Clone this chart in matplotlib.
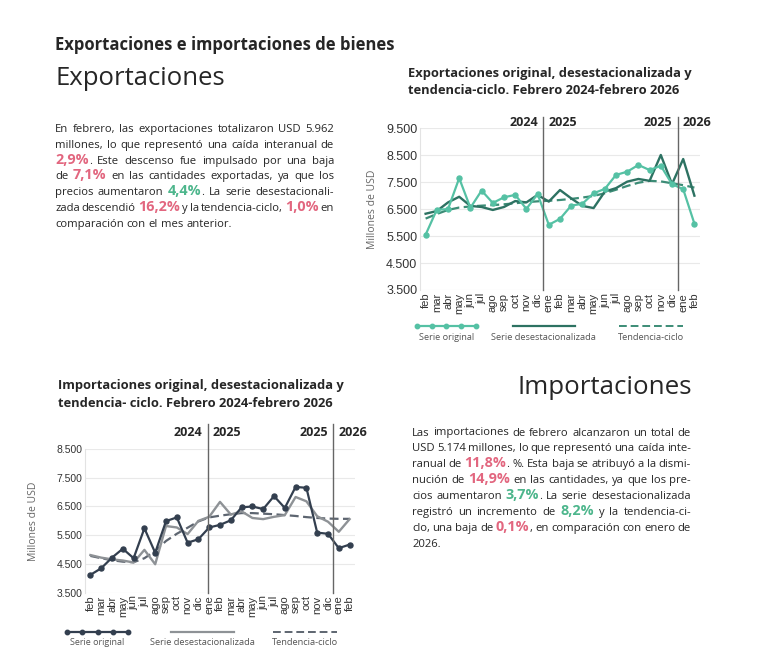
import re
import numpy as np
import matplotlib
matplotlib.use("Agg")
import matplotlib.pyplot as plt
from matplotlib.lines import Line2D

W, H = 757, 671

months = ["feb", "mar", "abr", "may", "jun", "jul", "ago", "sep", "oct", "nov", "dic",
          "ene", "feb", "mar", "abr", "may", "jun", "jul", "ago", "sep", "oct", "nov", "dic",
          "ene", "feb"]

# exportaciones, millones de USD (feb 2024 - feb 2026)
exp_original = [5550, 6480, 6500, 7650, 6550, 7190, 6730, 6940, 7030, 6510, 7060,
                5920, 6140, 6630, 6700, 7090, 7250, 7770, 7890, 8140, 7950, 8110, 7430,
                7240, 5962]
exp_desest = [6330, 6430, 6750, 6960, 6620, 6580, 6470, 6580, 6800, 6750, 7030,
              6780, 7210, 6900, 6620, 6540, 7150, 7280, 7520, 7620, 7550, 8510, 7430,
              8360, 7000]
exp_tendencia = [6150, 6320, 6470, 6560, 6600, 6630, 6650, 6680, 6720, 6760, 6790,
                 6810, 6840, 6880, 6930, 6990, 7090, 7220, 7360, 7480, 7550, 7530, 7460,
                 7390, 7300]

# importaciones, millones de USD
imp_original = [4120, 4350, 4720, 5030, 4700, 5740, 4890, 5990, 6120, 5240, 5360,
                5770, 5860, 6020, 6470, 6500, 6410, 6860, 6450, 7180, 7150, 5590, 5550,
                5050, 5174]
imp_desest = [4810, 4720, 4660, 4620, 4550, 4990, 4490, 5820, 5770, 5540, 6000,
              6140, 6660, 6220, 6330, 6100, 6060, 6140, 6200, 6830, 6680, 6160, 5970,
              5620, 6060]
imp_tendencia = [4780, 4700, 4630, 4580, 4560, 4700, 4950, 5300, 5550, 5760, 5980,
                 6120, 6180, 6230, 6270, 6270, 6250, 6230, 6200, 6170, 6130, 6100, 6080,
                 6070, 6070]

exp_yticks = [3500, 4500, 5500, 6500, 7500, 8500, 9500]
imp_yticks = [3500, 4500, 5500, 6500, 7500, 8500]

TEXT = "#262626"
PINK = "#E2667F"
GREEN = "#4DB68C"
BODY = ["Open Sans", "DejaVu Sans"]
NARROW = ["Liberation Sans Narrow", "Liberation Sans", "DejaVu Sans"]

fig = plt.figure(figsize=(W / 100, H / 100), dpi=100)
fig.patch.set_facecolor("white")
renderer = fig.canvas.get_renderer()


def fx(x):
    return x / W


def fy(y):
    return 1 - y / H


def put(x, y, s, **kw):
    kw.setdefault("va", "baseline")
    return fig.text(fx(x), fy(y), s, **kw)


def wpx(t):
    return t.get_window_extent(renderer).width


def fit(t, target):
    t.set_fontsize(t.get_fontsize() * target / wpx(t))
    return t


def advance(s, kw):
    # width including side bearings: measure between two reference glyphs
    a = fig.text(0, 0, "H" + s + "H", **kw)
    b = fig.text(0, 0, "HH", **kw)
    w = wpx(a) - wpx(b)
    a.remove()
    b.remove()
    return w


TOKEN = re.compile(r"<([rg])>(.*?)</\1>")


def pieces(word):
    out, pos = [], 0
    for m in TOKEN.finditer(word):
        if m.start() > pos:
            out.append((word[pos:m.start()], None))
        out.append((m.group(2), m.group(1)))
        pos = m.end()
    if pos < len(word):
        out.append((word[pos:], None))
    return out


def paragraph(lines, x0, x1, y0, dy, size):
    # justified text with coloured figures
    space = 0.26 * size * 100 / 72
    for i, line in enumerate(lines):
        y = y0 + i * dy
        words = []
        for w in line.split():
            wp = []
            for s, st in pieces(w):
                kw = dict(fontsize=size, color=TEXT, family=BODY)
                if st:
                    kw.update(fontsize=size * 1.28, fontweight="bold",
                              color=PINK if st == "r" else GREEN)
                t = put(0, y, s, **kw)
                wp.append((t, advance(s, kw)))
            words.append(wp)
        widths = [sum(w for _, w in wp) for wp in words]
        if i < len(lines) - 1 and len(words) > 1:
            gap = max((x1 - x0 - sum(widths)) / (len(words) - 1), space * 0.6)
        else:
            gap = space
        x = x0
        for wp in words:
            for t, w in wp:
                t.set_x(fx(x))
                x += w
            x += gap


def chart(rect, orig, desest, trend, yticks, vlines, years, year_y, vtop,
          c_orig, c_des, c_trend, ytick_size):
    ax = fig.add_axes(rect)
    x = np.arange(len(months))
    ax.plot(x, trend, color=c_trend, lw=1.6, ls=(0, (4, 2)), zorder=2)
    ax.plot(x, desest, color=c_des, lw=1.7, zorder=3)
    ax.plot(x, orig, color=c_orig, lw=1.6, marker="o", ms=3.6, zorder=4)
    ax.set_xlim(-0.5, 24.5)
    ax.set_ylim(yticks[0], yticks[-1])
    ax.set_yticks(yticks)
    ax.set_yticklabels([f"{v:,}".replace(",", ".") for v in yticks],
                       fontsize=ytick_size, family=["Liberation Sans", "DejaVu Sans"], color="#333")
    ax.set_xticks(x)
    ax.set_xticklabels(months, rotation=90, fontsize=8, family=NARROW, color="#333")
    ax.tick_params(length=0, pad=2)
    ax.grid(axis="y", color="#e9e9e9", lw=0.8)
    ax.set_axisbelow(True)
    for s in ["top", "right", "bottom"]:
        ax.spines[s].set_visible(False)
    ax.spines["left"].set_color("#e3e3e3")
    ax.set_ylabel("Millones de USD", fontsize=7.5, family=BODY, color="#666")
    for v, (ya, yb) in zip(vlines, years):
        ax.axvline(v, ymin=0, ymax=vtop, color="#666", lw=1, clip_on=False, zorder=5)
        ax.text(v - 0.45, year_y, ya, ha="right", va="center", fontsize=9,
                fontweight="bold", family=BODY, color=TEXT)
        ax.text(v + 0.45, year_y, yb, ha="left", va="center", fontsize=9,
                fontweight="bold", family=BODY, color=TEXT)
    return ax


def legend(items, y_line, y_text):
    for (x0, x1, lbl, lw_target, style) in items:
        color, ls, mk = style
        xs = np.linspace(x0, x1, 5)
        ln = Line2D([fx(v) for v in xs], [fy(y_line)] * 5, transform=fig.transFigure,
                    color=color, lw=1.6 if ls == "-" else 1.4, ls=ls,
                    marker=mk, ms=3.2)
        fig.add_artist(ln)
        t = put((x0 + x1) / 2, y_text, lbl, ha="center", fontsize=7, family=BODY, color="#555")
        fit(t, lw_target)


# titles
fit(put(55, 50, "Exportaciones e importaciones de bienes", fontsize=11, fontweight="bold",
        family=BODY, color=TEXT), 339)
fit(put(55, 85, "Exportaciones", fontsize=18, family=BODY, color=TEXT, fontweight="medium"), 170)
fit(put(692, 394, "Importaciones", fontsize=18, family=BODY, color=TEXT, fontweight="medium",
        ha="right"), 174)

t1 = fit(put(408, 77, "Exportaciones original, desestacionalizada y", fontsize=9,
             fontweight="bold", family=BODY, color=TEXT), 285)
put(408, 94.5, "tendencia-ciclo. Febrero 2024-febrero 2026", fontsize=t1.get_fontsize(),
    fontweight="bold", family=BODY, color=TEXT)
t2 = fit(put(58, 389, "Importaciones original, desestacionalizada y", fontsize=9,
             fontweight="bold", family=BODY, color=TEXT), 287)
put(58, 407, "tendencia- ciclo. Febrero 2024-febrero 2026", fontsize=t2.get_fontsize(),
    fontweight="bold", family=BODY, color=TEXT)

exp_text = [
    "En febrero, las exportaciones totalizaron USD 5.962",
    "millones, lo que representó una caída interanual de",
    "<r>2,9%</r>. Este descenso fue impulsado por una baja",
    "de <r>7,1%</r> en las cantidades exportadas, ya que los",
    "precios aumentaron <g>4,4%</g>. La serie desestacionali-",
    "zada descendió <r>16,2%</r> y la tendencia-ciclo, <r>1,0%</r> en",
    "comparación con el mes anterior.",
]
imp_text = [
    "Las importaciones de febrero alcanzaron un total de",
    "USD 5.174 millones, lo que representó una caída inte-",
    "ranual de <r>11,8%</r>. %. Esta baja se atribuyó a la dismi-",
    "nución de <r>14,9%</r> en las cantidades, ya que los pre-",
    "cios aumentaron <g>3,7%</g>. La serie desestacionalizada",
    "registró un incremento de <g>8,2%</g> y la tendencia-ci-",
    "clo, una baja de <r>0,1%</r>, en comparación con enero de",
    "2026.",
]
paragraph(exp_text, 55, 334, 132, 15.83, 8.1)
paragraph(imp_text, 412, 691, 435.5, 15.95, 8.1)

# charts
ax1 = chart([fx(420), fy(290), 280 / W, 161.7 / H], exp_original, exp_desest, exp_tendencia,
            exp_yticks, [10.5, 22.5], [("2024", "2025"), ("2025", "2026")], 9720, 1.07,
            "#55C1A4", "#2D7262", "#3C8C76", 9)
ax1.yaxis.set_label_coords(-0.15, 0.5)

ax2 = chart([fx(85), fy(592.7), 270 / W, 143.7 / H], imp_original, imp_desest, imp_tendencia,
            imp_yticks, [10.85, 22.5], [("2024", "2025"), ("2025", "2026")], 9057, 1.174,
            "#333F4F", "#8E9296", "#5D6570", 7.5)
ax2.yaxis.set_label_coords(-0.17, 0.5)

legend([(416.7, 476, "Serie original", 56, ("#55C1A4", "-", "o")),
        (512.7, 575, "Serie desestacionalizada", 106, ("#2D7262", "-", None)),
        (619.3, 683.3, "Tendencia-ciclo", 67, ("#3C8C76", (0, (4, 2)), None))],
       326.5, 340)
legend([(67.3, 127.7, "Serie original", 55, ("#333F4F", "-", "o")),
        (171, 234.3, "Serie desestacionalizada", 106, ("#8E9296", "-", None)),
        (273.3, 337.3, "Tendencia-ciclo", 67, ("#5D6570", (0, (4, 2)), None))],
       632, 645)

fig.savefig("out.png", dpi=100, facecolor="white")
